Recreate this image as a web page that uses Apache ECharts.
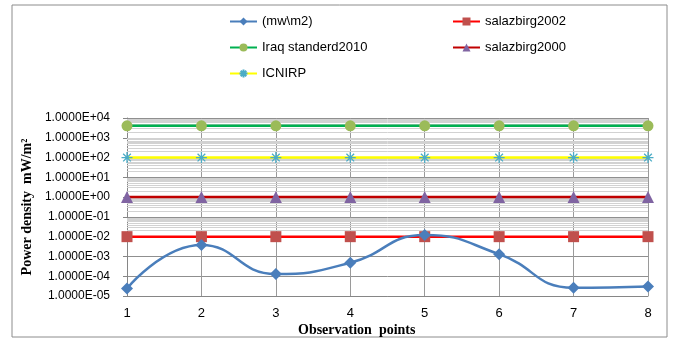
<!DOCTYPE html>
<html>
<head>
<meta charset="utf-8">
<script src="https://cdn.jsdelivr.net/npm/echarts@6/dist/echarts.min.js"></script>
<style>
  html, body { margin: 0; padding: 0; background: #fff; }
  #chart { width: 675px; height: 341px; }
</style>
</head>
<body>
<div id="chart"></div>
<script>
// observation points and measured / reference power densities
const points = ['1', '2', '3', '4', '5', '6', '7', '8'];
const measured = [2.4e-5, 3.8e-3, 1.3e-4, 4.8e-4, 1.2e-2, 1.3e-3, 2.6e-5, 3.0e-5];
const salazbirg2002 = [0.01, 0.01, 0.01, 0.01, 0.01, 0.01, 0.01, 0.01];
const iraq2010 = [4000, 4000, 4000, 4000, 4000, 4000, 4000, 4000];
const salazbirg2000 = [1, 1, 1, 1, 1, 1, 1, 1];
const icnirp = [100, 100, 100, 100, 100, 100, 100, 100];

const yMin = 1e-5;
const yMax = 1e4;

// Excel-like log minor gridlines (2..9 within each decade)
const minorLines = [];
for (let e = -5; e < 4; e++) {
  for (let m = 2; m <= 9; m++) minorLines.push({ yAxis: m * Math.pow(10, e) });
}

const fmtExp = (v) => {
  const [mant, exp] = Number(v).toExponential(4).toUpperCase().split('E');
  const sign = exp[0] === '-' ? '-' : '+';
  const digits = exp.replace(/[+-]/, '').padStart(2, '0');
  return mant + 'E' + sign + digits;
};

const asterisk = 'path://M5,0 L5,10 M0,5 L10,5 M1.5,1.5 L8.5,8.5 M8.5,1.5 L1.5,8.5';

const chart = echarts.init(document.getElementById('chart'));
chart.setOption({
  animation: false,
  textStyle: { fontFamily: 'Liberation Sans' },
  graphic: [{
    type: 'rect',
    shape: { x: 12, y: 5, width: 655, height: 332 },
    style: { fill: 'none', stroke: '#8c8c8c', lineWidth: 1 },
    silent: true,
  }],
  title: {
    text: 'Observation  points',
    left: 293,
    top: 318,
    textStyle: { fontFamily: 'Liberation Serif', fontWeight: 'bold', fontSize: 14, color: '#000' },
  },
  legend: [
    {
      left: 224,
      top: 10,
      orient: 'vertical',
      itemWidth: 27,
      itemHeight: 10,
      itemGap: 13,
      textStyle: { fontSize: 13, color: '#000' },
      data: ['(mw\\m2)', 'Iraq standerd2010', 'ICNIRP'],
    },
    {
      left: 447,
      top: 10,
      orient: 'vertical',
      itemWidth: 27,
      itemHeight: 10,
      itemGap: 13,
      textStyle: { fontSize: 13, color: '#000' },
      data: ['salazbirg2002', 'salazbirg2000'],
    },
  ],
  grid: { left: 127, right: 27, top: 118, bottom: 45 },
  xAxis: {
    type: 'category',
    data: points,
    boundaryGap: false,
    axisLine: { lineStyle: { color: '#868686' } },
    axisTick: { show: false },
    axisLabel: { color: '#000', fontSize: 13, margin: 11 },
    splitLine: { show: true, lineStyle: { color: '#9a9a9a', width: 1 } },
  },
  yAxis: {
    type: 'log',
    logBase: 10,
    min: yMin,
    max: yMax,
    interval: 1,
    name: 'Power density  mW/m²',
    nameLocation: 'middle',
    nameGap: 93,
    nameTextStyle: { fontFamily: 'Liberation Serif', fontWeight: 'bold', fontSize: 14, color: '#000' },
    axisLine: { show: true, lineStyle: { color: '#868686' } },
    axisTick: { show: true, length: 4, lineStyle: { color: '#868686' } },
    axisLabel: { color: '#000', fontSize: 12, margin: 17, formatter: fmtExp },
    splitLine: { show: true, lineStyle: { color: '#8f8f8f', width: 1 } },
  },
  series: [
    {
      name: 'grid-minor',
      type: 'line',
      data: [],
      silent: true,
      z: 1,
      markLine: {
        silent: true,
        z: 1,
        symbol: 'none',
        label: { show: false },
        emphasis: { disabled: true },
        lineStyle: { color: '#d2d2d2', width: 1, type: 'solid' },
        data: minorLines,
      },
    },
    {
      name: 'Iraq standerd2010',
      type: 'line',
      data: iraq2010,
      z: 3,
      symbol: 'circle',
      symbolSize: 11,
      lineStyle: { color: '#00b050', width: 2.5 },
      itemStyle: { color: '#9bbb59' },
    },
    {
      name: 'ICNIRP',
      type: 'line',
      data: icnirp,
      z: 3,
      symbol: asterisk,
      symbolSize: 11,
      lineStyle: { color: '#ffff00', width: 2.5 },
      itemStyle: { color: 'rgba(0,0,0,0)', borderColor: '#4bacc6', borderWidth: 1.3 },
    },
    {
      name: 'salazbirg2000',
      type: 'line',
      data: salazbirg2000,
      z: 3,
      symbol: 'triangle',
      symbolSize: 12,
      lineStyle: { color: '#c00000', width: 2.5 },
      itemStyle: { color: '#8064a2' },
    },
    {
      name: 'salazbirg2002',
      type: 'line',
      data: salazbirg2002,
      z: 3,
      symbol: 'rect',
      symbolSize: 11,
      lineStyle: { color: '#ff0000', width: 2.5 },
      itemStyle: { color: '#c0504d' },
    },
    {
      name: '(mw\\m2)',
      type: 'line',
      data: measured,
      z: 4,
      smooth: 0.5,
      symbol: 'diamond',
      symbolSize: 12,
      lineStyle: { color: '#4a7ebb', width: 2.5 },
      itemStyle: { color: '#4a7ebb' },
    },
  ],
});
</script>
</body>
</html>
